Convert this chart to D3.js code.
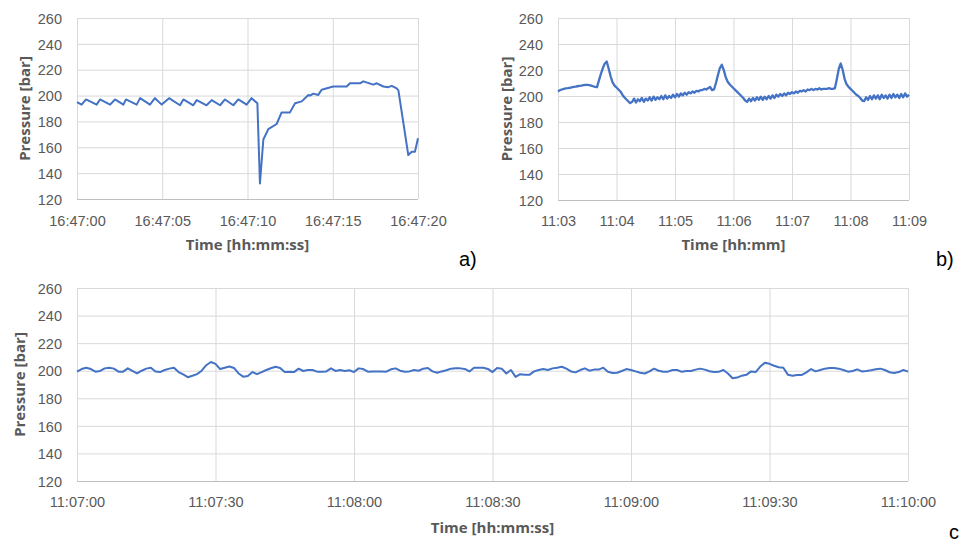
<!DOCTYPE html>
<html lang="en">
<head>
<meta charset="UTF-8">
<title>Pressure traces</title>
<script src="https://cdn.jsdelivr.net/npm/d3@7"></script>
<style>
  body { margin: 0; background: #fff; }
  svg { display: block; font-family: "Open Sans", sans-serif; }
  .tick text { fill: #595959; font-size: 14.5px; }
  .axis-title { fill: #595959; font-size: 15px; font-weight: bold; }
  .tag { fill: #000; font-family: "Liberation Sans", Arial, sans-serif; font-size: 20px; }
</style>
</head>
<body>
<svg width="962" height="542"></svg>
<script>
  // pressure ticks shared by all three panels
  var yTicks = [120, 140, 160, 180, 200, 220, 240, 260];

  // a) seconds after 16:47:00 and pressure [bar]
  var aTimes = [0, 0.27, 0.53, 1.15, 1.35, 1.94, 2.23, 2.72, 2.87, 3.5,
    3.7, 4.28, 4.57, 4.97, 5.4, 6.04, 6.24, 6.82, 7.02, 7.6,
    7.9, 8.39, 8.68, 9.17, 9.46, 9.95, 10.24, 10.58, 10.73, 10.93,
    11.22, 11.71, 12.0, 12.49, 12.79, 13.18, 13.57, 13.67, 13.86, 14.15,
    14.35, 15.03, 15.82, 16.01, 16.6, 16.79, 17.38, 17.58, 17.97, 18.26,
    18.46, 18.75, 18.85, 19.14, 19.43, 19.63, 19.82, 20.0];
  var aValues = [195, 193, 197, 193, 197, 193, 197, 193, 197, 193,
    198, 193, 198, 193, 198, 192.5, 197, 192.5, 196.5, 192.5,
    196.5, 192.5, 197, 192.5, 197, 193, 198, 194, 132, 166,
    174, 178, 187, 187, 194, 195.5, 200.5, 200, 201.5, 200.5,
    204.5, 207, 207, 209.5, 209.5, 211, 208.5, 209.5, 207, 206.5,
    207.5, 205.5, 204, 179, 154, 156.5, 156.5, 167];

  // b) one sample every 2 s from 11:03:00
  var bStep = 2;
  var bValues = [203.5, 204.5, 205, 205.5, 205.8, 206, 206.3, 206.6, 207, 207.2,
    207.5, 207.8, 208, 208.3, 208.5, 208.6, 208.3, 208, 207.5, 207,
    206.8, 212, 217, 221.5, 225, 226.5, 221, 215, 210.5, 208,
    206.5, 205, 203.5, 201, 199, 197.5, 196, 194.5,
    195.5, 198, 195, 197.5, 196, 198.5, 195.5, 198, 196.5, 199,
    196.5, 199.5, 197, 199, 197.5, 200, 197.5, 200.5, 198, 200,
    198.5, 201, 199, 201.5, 199.5, 202, 200.5, 202.5, 201, 203,
    202, 203.5, 202.5, 204, 203.5, 204.5, 204.5, 205.5, 205, 206,
    207, 204.5, 205, 210, 216, 221.5, 224, 220, 214.5, 211,
    209, 207.5, 206, 204.5, 203, 201.5, 200, 198.5, 196.5,
    195.5, 198, 196, 198.5, 196.5, 199, 197, 199.5, 197, 199.5,
    197.5, 200, 198, 200.5, 198.5, 201, 199.5, 201.5, 200, 202,
    200.5, 202.5, 201.5, 203, 202, 203.5, 202.5, 204, 203.5, 204.5,
    203.5, 205, 204.5, 205.5, 204.5, 205.5, 205, 206, 205, 205.5, 205.5,
    205.5, 206, 205.5, 205.5, 206,
    213, 221, 225, 220, 213, 209, 207, 205.5, 204, 202.5, 201, 200, 198.5, 196.5,
    196, 199, 197, 200, 197.5, 200.5, 198, 200.5, 197.5, 201,
    198.5, 200.5, 198, 201, 198.5, 201.5, 199, 201, 198.5, 201.5,
    199, 202, 199.5, 201];

  // c) one sample per second from 11:07:00
  var cStep = 1;
  var cValues = [199.3, 201.2, 202.2, 201.2, 199.3, 199.8, 201.7, 202.2, 201.5, 199.3,
    199.3, 201.7, 199.8, 198, 200, 201.5, 202.2, 199.5, 199, 200.5,
    201.5, 202.2, 199, 197.3, 195.3, 196.3, 197.5, 200, 204, 206.3,
    205, 201.2, 202.2, 203, 202, 198, 195.7, 196.2, 199, 197.5,
    199, 200.5, 201.8, 202.9, 202, 199, 199.3, 199, 201.5, 199.8,
    200.5, 200.5, 199.3, 199.3, 199.5, 201.7, 199.8, 200.5, 199.8, 200.3,
    199, 201.7, 201.2, 199.3, 199.5, 199.5, 199.5, 199.3, 201, 201.7,
    200, 199.3, 199.5, 200.5, 200, 201.5, 202, 199.5, 198.5, 199.5,
    200.3, 201.5, 201.7, 201.7, 201.3, 199.5, 202.2, 202.2, 202.2, 201.3,
    199, 202, 201.5, 198, 200.5, 195.5, 197.5, 197, 197, 199.5,
    200.5, 201.2, 200.5, 201.7, 202.2, 202.9, 201.5, 199.5, 198.8, 200.5,
    201.7, 200, 200.8, 200.8, 202.2, 199.3, 198.3, 198.5, 199.8, 201.2,
    200.5, 199.5, 198.5, 198, 199.5, 201.5, 200, 199.3, 199.3, 200.5,
    200.5, 199.2, 199.8, 199.8, 200.8, 201.5, 200.8, 199.6, 199, 199.2,
    200.5, 198, 194.5, 195, 196.4, 197, 199.5, 199, 203, 205.8,
    205, 203.6, 202.5, 202.2, 197, 196.4, 196.9, 196.9, 198.8, 201.2,
    199.5, 200.5, 201.5, 202, 202, 201.5, 200.5, 199.3, 199.8, 201,
    199.5, 199.8, 200.3, 201, 201.5, 200.5, 198.9, 198.3, 199, 200.5, 199.3];

  var day = "2020-01-01T";
  var at = (start, sec) => new Date(Date.parse(day + start + "Z") + sec * 1000);

  var panels = [
    { left: 77, right: 418, top: 18, bottom: 199, lineW: 2,
      start: "16:47:00", end: "16:47:20", every: d3.utcSecond.every(5), fmt: "%H:%M:%S",
      points: aTimes.map((t, i) => [at("16:47:00", t), aValues[i]]),
      xTitle: "Time [hh:mm:ss]", tickY: 221, titleY: 245, yTitleX: 25, tag: "a)", tagX: 459, tagY: 266 },
    { left: 558, right: 909, top: 18, bottom: 200, lineW: 2.3,
      start: "11:03:00", end: "11:09:00", every: d3.utcMinute.every(1), fmt: "%H:%M",
      points: bValues.map((v, i) => [at("11:03:00", i * bStep), v]),
      xTitle: "Time [hh:mm]", tickY: 221, titleY: 245, yTitleX: 507, tag: "b)", tagX: 936, tagY: 266 },
    { left: 77, right: 908, top: 288, bottom: 481, lineW: 2,
      start: "11:07:00", end: "11:10:00", every: d3.utcSecond.every(30), fmt: "%H:%M:%S",
      points: cValues.map((v, i) => [at("11:07:00", i * cStep), v]),
      xTitle: "Time [hh:mm:ss]", tickY: 502, titleY: 528, yTitleX: 20, tag: "c", tagX: 949, tagY: 539 }
  ];

  var svg = d3.select("svg");

  panels.forEach(function(p) {
    var x = d3.scaleUtc()
      .domain([at(p.start, 0), at(p.end, 0)])
      .range([p.left, p.right]);
    var y = d3.scaleLinear().domain([120, 260]).range([p.bottom, p.top]);
    var g = svg.append("g");

    // horizontal grid + labels
    var ya = g.append("g")
      .attr("transform", `translate(${p.left},0)`)
      .call(d3.axisLeft(y).tickValues(yTicks).tickSize(-(p.right - p.left)).tickPadding(15));
    ya.select(".domain").remove();
    ya.selectAll(".tick line").attr("stroke", d => d === 120 ? "#bfbfbf" : "#d9d9d9");
    ya.selectAll(".tick text").attr("dy", "0.36em");

    // vertical grid + time labels
    var xa = g.append("g")
      .attr("transform", `translate(0,${p.bottom})`)
      .call(d3.axisBottom(x).ticks(p.every).tickFormat(d3.utcFormat(p.fmt))
        .tickSize(-(p.bottom - p.top)).tickPadding(0));
    xa.select(".domain").remove();
    xa.selectAll(".tick line").attr("stroke", "#d9d9d9");
    xa.selectAll(".tick text").attr("y", p.tickY - p.bottom).attr("dy", "0.36em");

    g.append("path")
      .datum(p.points)
      .attr("fill", "none")
      .attr("stroke", "#4472c4")
      .attr("stroke-width", p.lineW)
      .attr("stroke-linejoin", "round")
      .attr("d", d3.line().x(d => x(d[0])).y(d => y(d[1])));

    g.append("text")
      .attr("class", "axis-title")
      .attr("text-anchor", "middle")
      .attr("x", (p.left + p.right) / 2)
      .attr("y", p.titleY)
      .attr("dy", "0.36em")
      .text(p.xTitle);

    g.append("text")
      .attr("class", "axis-title")
      .attr("text-anchor", "middle")
      .attr("transform", `translate(${p.yTitleX},${(p.top + p.bottom) / 2}) rotate(-90)`)
      .attr("dy", "0.36em")
      .text("Pressure [bar]");

    g.append("text")
      .attr("class", "tag")
      .attr("x", p.tagX)
      .attr("y", p.tagY)
      .text(p.tag);
  });
</script>
</body>
</html>
